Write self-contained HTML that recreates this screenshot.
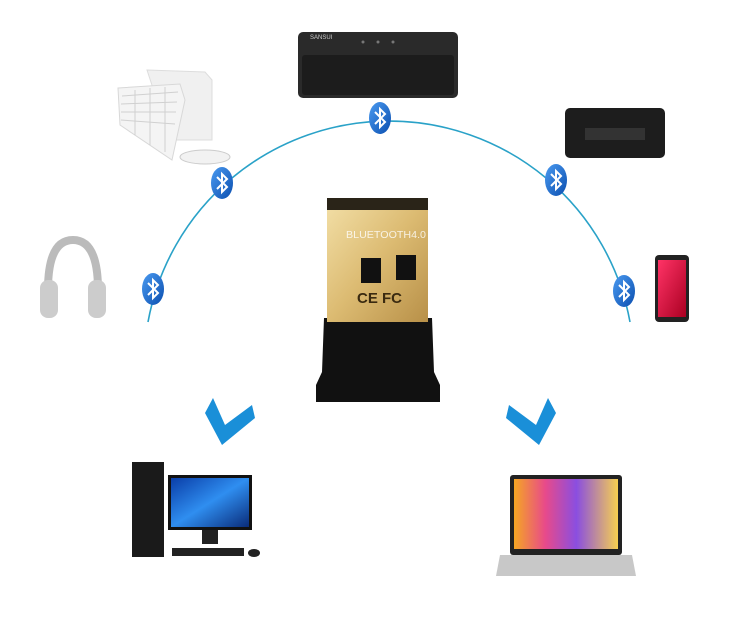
<!DOCTYPE html>
<html><head><meta charset="utf-8"><style>
html,body{margin:0;padding:0;background:#fff;}
svg{display:block;}
</style></head><body>
<svg width="738" height="622" viewBox="0 0 738 622" xmlns="http://www.w3.org/2000/svg">
<defs>
<linearGradient id="gold" x1="0" y1="0" x2="1" y2="1">
<stop offset="0" stop-color="#f3e0a8"/><stop offset="0.5" stop-color="#dcbb72"/><stop offset="1" stop-color="#b89048"/></linearGradient>
<linearGradient id="scr1" x1="0" y1="0" x2="1" y2="1">
<stop offset="0" stop-color="#0a3ea8"/><stop offset="0.5" stop-color="#2f8ef0"/><stop offset="1" stop-color="#0a2c7a"/></linearGradient>
<linearGradient id="scr2" x1="0" y1="0" x2="1" y2="0">
<stop offset="0" stop-color="#f5a623"/><stop offset="0.3" stop-color="#e84a8a"/><stop offset="0.6" stop-color="#8a4ee0"/><stop offset="1" stop-color="#f7d050"/></linearGradient>
<linearGradient id="ph" x1="0" y1="0" x2="1" y2="1">
<stop offset="0" stop-color="#f36"/><stop offset="1" stop-color="#a02"/></linearGradient>
<linearGradient id="btg" x1="0" y1="0" x2="1" y2="1">
<stop offset="0" stop-color="#4a9af0"/><stop offset="1" stop-color="#0b4fb0"/></linearGradient>
<g id="bt"><ellipse cx="0" cy="0" rx="11" ry="16" fill="url(#btg)"/>
<path d="M-5,-6 L5,4 L0,9 L0,-9 L5,-4 L-5,6" fill="none" stroke="#fff" stroke-width="2"/></g>
</defs>
<path d="M148,322 A245,245 0 0 1 630,322" fill="none" stroke="#2aa2c8" stroke-width="1.6"/>
<rect x="298" y="32" width="160" height="66" rx="5" fill="#2a2a2a"/>
<rect x="302" y="55" width="152" height="40" rx="3" fill="#1c1c1c"/>
<text x="310" y="39" font-family="Liberation Sans" font-size="6" fill="#ccc">SANSUI</text>
<circle cx="363" cy="42" r="1.5" fill="#777"/><circle cx="378" cy="42" r="1.5" fill="#777"/><circle cx="393" cy="42" r="1.5" fill="#777"/>
<polygon points="147,70 205,72 212,80 212,140 170,140" fill="#f0f0f0" stroke="#ddd"/>
<polygon points="118,88 180,84 185,100 172,160 120,125" fill="#f4f4f4" stroke="#d8d8d8"/>
<g stroke="#d0d0d0" stroke-width="1">
<line x1="122" y1="96" x2="178" y2="92"/><line x1="121" y1="104" x2="177" y2="102"/><line x1="121" y1="112" x2="176" y2="112"/><line x1="121" y1="120" x2="175" y2="124"/>
<line x1="135" y1="90" x2="135" y2="135"/><line x1="150" y1="88" x2="150" y2="145"/><line x1="165" y1="87" x2="165" y2="152"/></g>
<ellipse cx="205" cy="157" rx="25" ry="7" fill="#f2f2f2" stroke="#ccc"/>
<rect x="565" y="108" width="100" height="50" rx="5" fill="#1d1d1d"/>
<rect x="585" y="128" width="60" height="12" fill="#333"/>
<path d="M48,290 Q48,240 73,240 Q98,240 98,290" fill="none" stroke="#bbb" stroke-width="8"/>
<rect x="40" y="280" width="18" height="38" rx="8" fill="#ccc"/>
<rect x="88" y="280" width="18" height="38" rx="8" fill="#ccc"/>
<rect x="655" y="255" width="34" height="67" rx="4" fill="#222"/>
<rect x="658" y="260" width="28" height="57" fill="url(#ph)"/>
<use href="#bt" x="380" y="118"/>
<use href="#bt" x="222" y="183"/>
<use href="#bt" x="556" y="180"/>
<use href="#bt" x="153" y="289"/>
<use href="#bt" x="624" y="291"/>
<path d="M324,318 L432,318 L434,372 L440,385 L440,402 L316,402 L316,385 L322,372 Z" fill="#111"/>
<rect x="327" y="198" width="101" height="124" fill="url(#gold)"/>
<rect x="327" y="198" width="101" height="12" fill="#2a2418"/>
<rect x="361" y="258" width="20" height="25" fill="#111"/>
<rect x="396" y="255" width="20" height="25" fill="#111"/>
<text x="346" y="238" font-family="Liberation Sans" font-size="10" fill="#fff" opacity="0.8" textLength="80" lengthAdjust="spacingAndGlyphs">BLUETOOTH4.0</text>
<text x="357" y="303" font-family="Liberation Sans" font-size="15" font-weight="bold" fill="#3a2a10">CE FC</text>
<polygon points="213,398 205,413 222,445 255,418 252,405 225,425" fill="#1a8fd8"/>
<polygon points="548,398 556,413 539,445 506,418 509,405 536,425" fill="#1a8fd8"/>
<rect x="132" y="462" width="32" height="95" fill="#1a1a1a"/>
<rect x="168" y="475" width="84" height="55" fill="#111"/>
<rect x="171" y="478" width="78" height="49" fill="url(#scr1)"/>
<rect x="202" y="530" width="16" height="14" fill="#222"/>
<rect x="172" y="548" width="72" height="8" fill="#222"/>
<ellipse cx="254" cy="553" rx="6" ry="4" fill="#222"/>
<rect x="510" y="475" width="112" height="80" rx="3" fill="#222"/>
<rect x="514" y="479" width="104" height="70" fill="url(#scr2)"/>
<polygon points="500,555 632,555 636,576 496,576" fill="#c8c8c8"/>
</svg>
</body></html>
